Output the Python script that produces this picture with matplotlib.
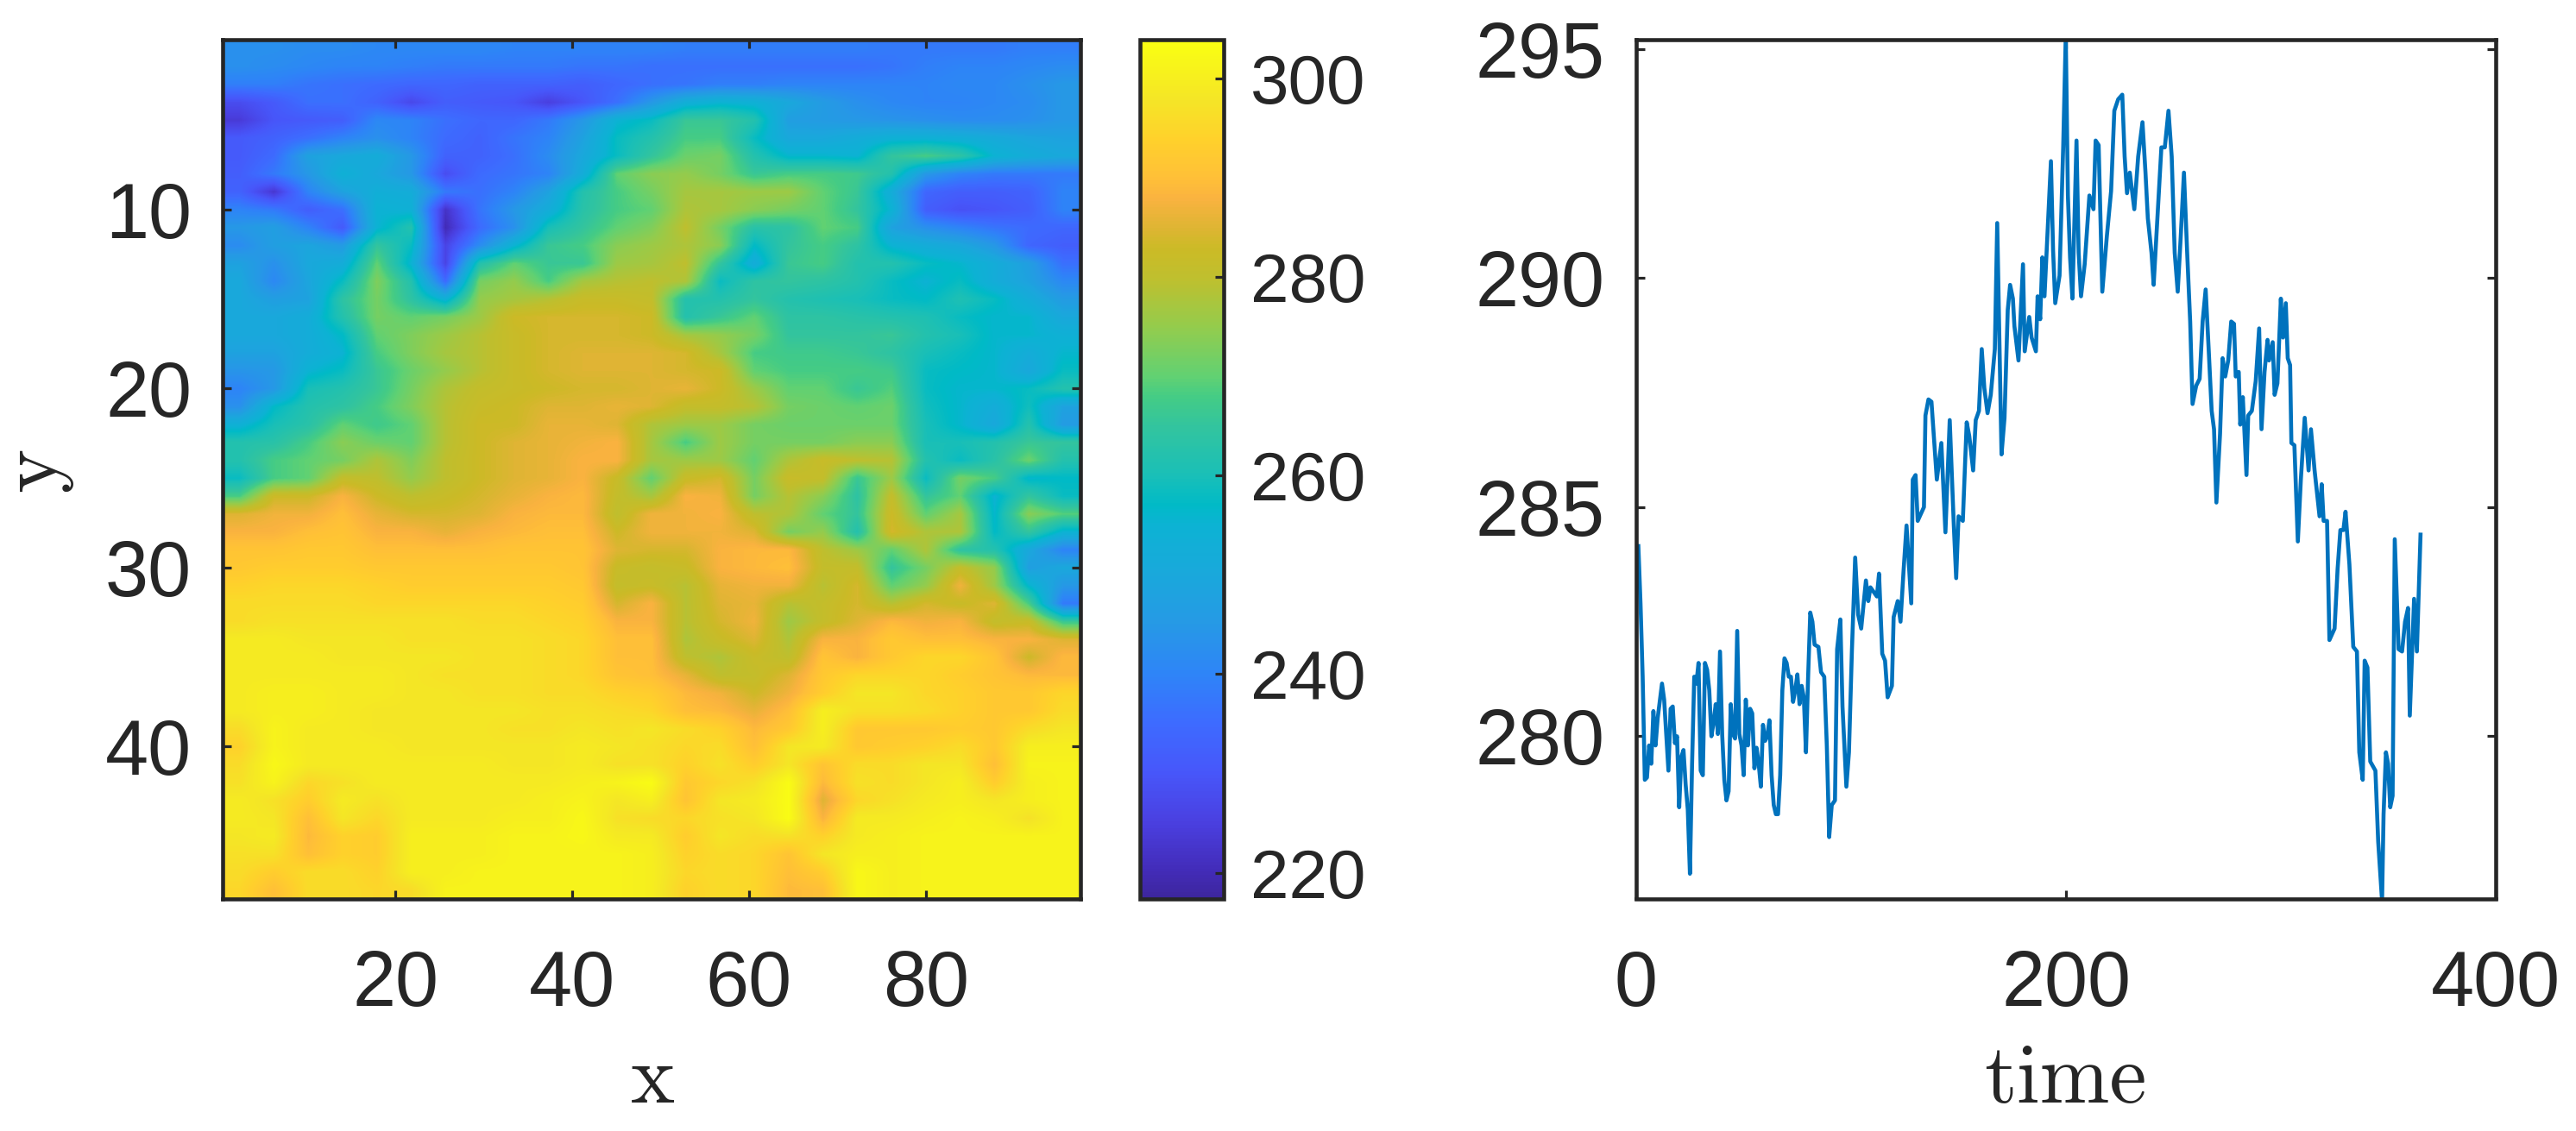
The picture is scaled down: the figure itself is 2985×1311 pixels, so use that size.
import numpy as np
import matplotlib
matplotlib.use("Agg")
import matplotlib.pyplot as plt
from matplotlib.colors import LinearSegmentedColormap

W, H = 2985, 1311

x_ticks = [20, 40, 60, 80]
y_ticks = [10, 20, 30, 40]
cbar_ticks = [220, 240, 260, 280, 300]
time_ticks = [0, 200, 400]
value_ticks = [280, 285, 290, 295]

vmin, vmax = 217.4, 303.9

# colour key: value -> rgb
key_values = [217.4, 220, 225, 230, 235, 240, 245, 250, 255, 257, 260, 265, 268, 270,
              275, 280, 283, 285, 288, 290, 294, 298, 303.9]
key_colors = [(0.24, 0.15, 0.62), (0.26, 0.17, 0.72), (0.29, 0.25, 0.88), (0.28, 0.34, 0.98),
              (0.24, 0.42, 1.0), (0.18, 0.52, 0.97), (0.15, 0.60, 0.90), (0.10, 0.66, 0.86),
              (0.05, 0.70, 0.83), (0.0, 0.73, 0.78), (0.10, 0.75, 0.72), (0.20, 0.77, 0.62),
              (0.27, 0.80, 0.52), (0.38, 0.82, 0.45), (0.58, 0.80, 0.30), (0.75, 0.75, 0.18),
              (0.80, 0.73, 0.15), (0.87, 0.71, 0.20), (0.98, 0.70, 0.25), (1.0, 0.75, 0.22),
              (1.0, 0.82, 0.17), (0.96, 0.90, 0.15), (0.98, 1.0, 0.07)]

# field values read by eye, one row per y = 1..48, 25 columns across x
field = [
 [243,243,242,242,241,241,241,241,240,240,240,240,240,239,239,239,239,239,239,238,238,238,238,239,239],
 [243,242,241,240,240,239,238,238,238,238,237,237,236,236,236,236,236,236,236,237,239,240,240,241,242],
 [239,239,237,236,235,234,234,233,233,233,232,234,236,237,239,239,240,240,240,240,240,241,241,243,245],
 [228,231,236,236,233,227,232,231,230,225,230,236,245,253,255,254,250,246,243,241,240,240,241,242,245],
 [224,230,231,232,241,240,236,234,234,238,245,255,258,266,266,262,247,246,245,244,243,242,242,243,245],
 [231,233,236,240,243,240,235,233,237,240,248,258,262,268,268,258,250,250,252,254,254,253,251,249,248],
 [231,235,248,250,252,245,233,233,236,242,250,258,265,271,272,262,256,256,255,265,268,264,255,252,250],
 [232,238,245,254,250,245,228,235,237,240,252,270,274,275,272,266,268,268,267,262,245,240,238,238,238],
 [233,223,240,248,253,252,238,236,240,248,262,268,272,277,277,276,276,270,266,252,234,232,232,233,240],
 [240,238,232,236,255,254,222,237,245,252,263,268,270,278,277,274,272,270,265,255,232,229,230,232,240],
 [245,247,240,231,255,262,220,235,243,260,265,270,273,280,272,263,264,270,268,248,243,240,237,235,234],
 [242,247,249,246,265,258,226,242,255,266,268,274,276,278,274,257,265,268,264,255,252,250,245,234,232],
 [248,243,250,252,270,255,226,262,270,266,266,276,277,280,265,252,266,268,262,262,258,256,252,247,236],
 [250,241,249,258,273,262,235,272,275,268,277,279,280,278,258,264,265,264,262,258,255,258,252,248,241],
 [250,247,248,264,272,264,254,275,277,279,282,282,281,262,262,265,262,261,260,258,257,261,258,252,246],
 [250,250,252,262,272,270,272,276,283,284,284,284,283,262,266,270,264,264,263,262,261,258,256,256,250],
 [250,250,252,257,270,273,276,279,282,284,284,284,283,277,275,272,265,265,265,266,262,260,256,256,254],
 [248,248,252,255,268,273,277,279,282,284,285,285,285,284,277,268,267,267,266,264,260,258,256,252,256],
 [244,245,255,258,266,271,275,279,282,284,285,285,285,284,283,270,268,268,268,267,258,257,256,250,258],
 [240,245,260,262,266,272,278,281,282,283,284,284,285,286,283,276,270,270,266,269,258,256,256,258,262],
 [243,257,262,264,268,273,279,282,283,285,285,286,285,281,281,279,272,271,270,271,259,256,252,259,248],
 [254,260,263,270,267,270,279,283,283,286,286,285,278,276,276,272,271,271,271,271,260,256,250,262,246],
 [262,263,268,274,271,270,279,283,285,286,287,288,277,268,276,272,272,272,274,274,260,260,262,266,265],
 [262,268,270,272,278,273,280,283,285,286,288,288,277,276,276,270,278,282,280,279,262,258,263,271,262],
 [258,268,270,281,280,275,280,283,285,286,288,282,270,282,284,272,282,281,266,276,258,272,268,256,257],
 [268,283,283,288,283,280,282,284,286,288,289,281,277,288,287,272,279,274,264,281,265,270,255,265,258],
 [285,287,287,290,286,284,284,285,288,289,289,280,287,287,288,280,278,270,265,283,270,277,256,274,269],
 [288,288,290,291,288,288,286,288,289,290,290,283,287,287,287,285,272,275,262,284,278,278,257,265,255],
 [291,291,292,292,290,290,290,290,291,291,291,285,284,284,288,289,289,280,276,270,278,264,262,250,240],
 [292,293,293,293,292,292,292,292,292,292,291,282,281,282,288,289,290,281,281,265,272,281,275,247,250],
 [294,295,295,295,294,293,293,293,293,293,292,281,282,279,286,287,287,279,284,270,275,287,276,256,245],
 [296,296,296,296,295,295,295,295,295,294,293,284,288,279,285,286,279,281,284,279,284,282,285,268,238],
 [296,297,297,297,297,297,297,296,296,295,294,288,288,279,284,287,276,281,285,289,287,288,281,282,266],
 [299,299,298,298,298,297,297,297,297,296,295,290,290,278,282,285,278,288,288,292,290,290,288,288,285],
 [299,299,299,298,298,298,298,297,297,296,295,290,290,280,278,282,280,291,288,292,295,295,291,283,289],
 [299,299,299,299,299,298,297,297,297,296,295,291,290,286,280,281,285,292,295,295,295,293,291,289,289],
 [299,300,300,299,299,298,298,297,297,296,296,294,293,289,287,283,287,293,298,298,295,294,292,292,295],
 [299,300,300,299,298,298,298,298,298,297,297,296,295,290,289,286,290,300,297,297,296,294,292,292,296],
 [296,301,299,299,298,298,298,298,297,297,298,297,298,296,294,289,292,300,292,292,292,293,292,296,298],
 [294,301,299,299,299,298,298,298,298,298,299,298,297,295,296,290,298,299,292,293,294,296,292,300,300],
 [296,302,299,299,299,299,299,299,298,298,299,297,297,294,297,293,298,291,296,296,298,298,290,301,301],
 [297,301,295,297,299,299,299,299,299,299,300,301,303,292,295,297,303,289,297,296,298,300,293,300,301],
 [299,297,293,299,297,299,299,299,299,300,301,298,300,291,298,299,303,285,295,297,299,300,298,300,301],
 [299,298,290,298,295,299,299,299,300,300,302,297,296,295,297,298,303,288,299,299,300,301,300,297,301],
 [298,299,289,294,293,300,300,300,301,301,302,299,299,293,298,296,297,294,299,300,301,301,301,301,301],
 [297,297,290,294,293,300,300,300,301,301,301,301,300,294,296,295,291,298,300,300,301,301,301,301,301],
 [296,293,296,296,294,300,300,301,301,301,301,301,300,295,296,295,290,293,302,300,301,301,301,301,301],
 [295,290,296,296,295,296,301,301,301,301,301,301,300,294,296,295,289,290,302,300,301,301,301,301,301],
]

# time series
time = [1, 2, 3, 4, 5, 6, 7, 8, 9, 10, 12, 13, 15, 16, 17, 18, 19, 20, 21, 22, 23, 24, 25, 26, 27, 28, 29,
        30, 31, 32, 33, 34, 35, 36, 37, 38, 39, 40, 41, 42, 43, 44, 45, 46, 47, 48, 49, 50, 51, 52, 53, 54,
        55, 56, 57, 58, 59, 60, 61, 62, 63, 64, 65, 66, 67, 68, 69, 70, 71, 72, 73, 74, 75, 76, 77, 78, 79,
        80, 81, 82, 83, 84.8, 86, 87.5, 88.7, 89.8, 91, 92.5, 93.5, 95, 96, 97.8, 99, 100.4, 101.9, 103.3,
        104.7, 106.9, 108, 109, 112, 113, 114.5, 115.8, 117, 119, 119.8, 121.7, 123, 124.4, 125.8, 128,
        128.7, 130, 131, 133.9, 134.6, 136, 137.4, 139.9, 142, 143.9, 145.9, 147.8, 148.9, 150, 152, 153.8,
        155, 156.8, 158, 159.5, 160.8, 162, 163.5, 165, 166.9, 168, 168.9, 170, 171.4, 172.9, 174, 175.3,
        176, 177.9, 180, 180.8, 182.9, 184, 186, 186.8, 188, 189, 190, 193, 194, 195, 197, 198.7, 199.9,
        200.9, 201.9, 203, 204.9, 205.9, 207, 208.7, 210.9, 212.8, 213.8, 215.2, 216.9,
        219, 221, 222.5, 224.3, 226.2, 227.3, 228.4, 229.7, 231.8, 233.6, 235.6, 237, 238.1, 239.8, 240.8,
        242.6, 244.4, 246, 247.7, 249.2, 250.6, 252, 253.4, 254.9, 256.4, 257.8, 258.9, 260.6, 262.2,
        263.6, 265, 266.4, 267.8, 268.9, 270, 271.7, 272.9, 274.1, 275.5, 276.9, 278.2, 279, 280.4, 281.1,
        282.3, 284, 284.8, 286.5, 288.3, 289.9, 291, 292.4, 293.8, 294.5, 296.2, 297.1, 298.4, 300, 301,
        302.3, 303.2, 304.3, 304.9, 306.3, 307.9, 309.3, 311.1, 312.9, 314, 315.7, 318, 319, 319.9, 321.5,
        322.6, 325, 326.4, 327.7, 329.1, 330.1, 331.9, 333.7, 335.4, 336.5, 338.1, 339, 340.3, 341.6, 344,
        345.3, 347.1, 347.8, 348.9, 349.9, 350.9, 352, 353, 354.8, 356.4, 357.8, 359.2, 360, 362, 363.3, 365]
temp = [284.15, 282.9, 281.3, 279.05, 279.1, 279.8, 279.4, 280.55, 279.8, 280.4, 281.15, 280.8, 279.25, 280.6,
        280.65, 279.85, 280.0, 278.45, 279.55, 279.7, 278.95, 278.4, 277.0, 279.4, 281.3, 281.15, 281.6,
        279.25, 279.15, 281.6, 281.45, 281.0, 280.0, 280.3, 280.7, 280.05, 281.85, 280.05, 279.05, 278.6,
        278.8, 280.7, 280.05, 279.95, 282.3, 280.05, 279.8, 279.15, 280.8, 279.8, 280.6, 280.5, 279.3, 279.75,
        279.4, 278.9, 280.25, 279.9, 280.0, 280.35, 279.15, 278.5, 278.3, 278.3, 279.15, 281.0, 281.7, 281.6,
        281.3, 281.3, 280.75, 281.0, 281.35, 280.7, 281.1, 280.85, 279.65, 281.3, 282.7, 282.5, 282.0, 281.95,
        281.4, 281.3, 279.8, 277.8, 278.5, 278.6, 281.9, 282.55, 280.65, 278.9, 279.65, 281.9, 283.9, 282.65,
        282.35, 283.4, 282.95, 283.25, 283.05, 283.55, 281.8, 281.65, 280.85, 281.1, 282.6, 282.95, 282.5,
        283.6, 284.6, 282.9, 285.6, 285.7, 284.7, 285.0, 287.0, 287.35, 287.3, 285.6, 286.4, 284.45, 286.9,
        284.6, 283.45, 284.8, 284.7, 286.85, 286.55, 285.8, 286.9, 287.1, 288.45, 287.6, 287.05, 287.45,
        288.45, 291.2, 288.95, 286.15, 286.95, 289.3, 289.85, 289.55, 288.95, 288.2, 290.3, 288.4, 289.15,
        288.7, 288.4, 289.6, 289.1, 290.45, 289.6, 292.55, 290.6, 289.45, 290.05, 292.85, 295.3, 291.8,
        290.45, 289.55, 293.0, 290.55, 289.6, 290.3, 291.8, 291.5, 293.0, 292.9, 289.7,
        290.9, 291.9, 293.65, 293.9, 294.0, 292.65, 291.85, 292.3, 291.5, 292.65, 293.4, 292.3, 291.3, 290.55,
        289.85, 291.35, 292.85, 292.85, 293.65, 292.65, 290.55, 289.7, 290.9, 292.3, 290.55, 289.05, 287.25,
        287.65, 287.8, 289.05, 289.75, 288.45, 287.1, 286.7, 285.1, 286.6, 288.25, 287.85, 288.2, 289.05,
        289.0, 287.85, 287.95, 286.8, 287.4, 285.7, 287.0, 287.1, 287.75, 288.9, 286.7, 287.95, 288.65, 288.2,
        288.6, 287.45, 287.7, 289.55, 288.7, 289.45, 288.25, 288.1, 286.4, 286.35, 284.25, 285.6, 286.95,
        285.8, 286.7, 285.8, 284.8, 285.5, 284.7, 284.7, 282.1, 282.35, 283.65, 284.5, 284.5, 284.9, 283.75,
        281.95, 281.85, 279.65, 279.05, 281.65, 281.5, 279.45, 279.25, 277.7, 276.4, 278.3, 279.65, 279.4,
        278.45, 278.7, 284.3, 281.9, 281.85, 282.5, 282.8, 280.45, 283.0, 281.85, 284.4]

INK = "#262626"
BLUE = "#0072BD"
PX = 72 / 100  # points per pixel at dpi 100

plt.rcParams["font.family"] = ["Liberation Sans", "DejaVu Sans"]
plt.rcParams["text.color"] = INK


def frac(left, right, top, bottom):
    return [left / W, 1 - bottom / H, (right - left) / W, (bottom - top) / H]


def style(ax):
    for s in ax.spines.values():
        s.set_linewidth(4.6 * PX)
        s.set_color(INK)
    ax.tick_params(which="major", direction="in", length=10 * PX, width=3.2 * PX,
                   color=INK, labelcolor=INK, labelsize=90 * PX,
                   top=True, right=True)
    ax.tick_params(axis="x", pad=42)
    ax.tick_params(axis="y", pad=26)


fig = plt.figure(figsize=(W / 100, H / 100), dpi=100, facecolor="white")
parula = LinearSegmentedColormap.from_list(
    "parula_read",
    [((v - vmin) / (vmax - vmin), c) for v, c in zip(key_values, key_colors)], N=256)

ax1 = fig.add_axes(frac(258.3, 1252, 46, 1041.5))
im = ax1.imshow(np.array(field, dtype=float), extent=(0.5, 97.5, 48.5, 0.5), aspect="auto",
                cmap=parula, vmin=vmin, vmax=vmax, interpolation="bilinear")
ax1.set_xticks(x_ticks)
ax1.set_yticks(y_ticks)
style(ax1)
ax1.set_xlabel("x", fontfamily="cmr10", fontsize=97 * PX, color=INK, va="baseline")
ax1.xaxis.set_label_coords(756 / W, 1 - 1278 / H, transform=fig.transFigure)
ax1.set_ylabel("y", fontfamily="cmr10", fontsize=97 * PX, color=INK, va="baseline")
ax1.yaxis.set_label_coords(64 / W, 1 - 544 / H, transform=fig.transFigure)

cax = fig.add_axes(frac(1320.5, 1418, 46, 1041.5))
cb = fig.colorbar(im, cax=cax, ticks=cbar_ticks)
cb.outline.set_linewidth(4.6 * PX)
cb.outline.set_edgecolor(INK)
cax.tick_params(direction="in", length=10 * PX, width=3.2 * PX, color=INK, labelcolor=INK,
                labelsize=80 * PX, right=True, left=False, pad=22)

ax2 = fig.add_axes(frac(1896, 2892, 46, 1041.5))
ax2.plot(time, temp, color=BLUE, linewidth=4.6 * PX, solid_joinstyle="round")
ax2.set_xlim(0, 400)
ax2.set_ylim(276.46, 295.2)
ax2.set_xticks(time_ticks)
ax2.set_yticks(value_ticks)
style(ax2)
ax2.set_xlabel("time", fontfamily="cmr10", fontsize=97 * PX, color=INK, va="baseline")
ax2.xaxis.set_label_coords(2393 / W, 1 - 1278 / H, transform=fig.transFigure)

fig.savefig("out.png", dpi=100, facecolor="white")
